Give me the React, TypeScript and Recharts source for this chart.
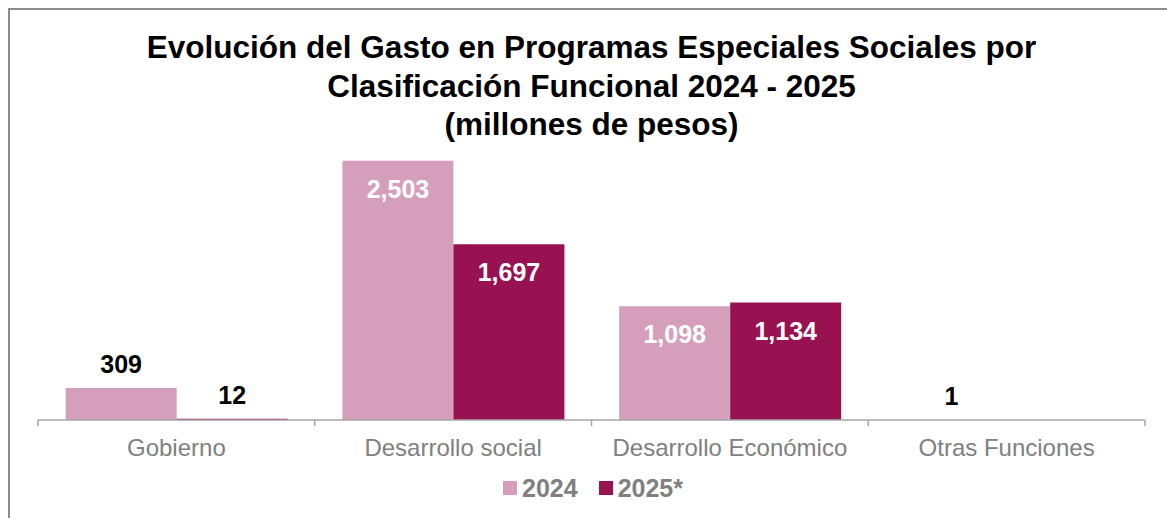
import React from 'react';
import { BarChart, Bar, XAxis, YAxis, LabelList } from 'recharts';

const titleLines = [
  'Evolución del Gasto en Programas Especiales Sociales por',
  'Clasificación Funcional 2024 - 2025',
  '(millones de pesos)',
];
const categories = ['Gobierno', 'Desarrollo social', 'Desarrollo Económico', 'Otras Funciones'];
const gasto2024 = [309, 2503, 1098, 1];
const gasto2025 = [12, 1697, 1134, null];
const seriesNames = ['2024', '2025*'];
const seriesColors = ['#D59FBC', '#981252'];

const data = categories.map((name, i) => ({
  name,
  y2024: gasto2024[i],
  y2025: gasto2025[i],
}));

const FONT = '"Liberation Sans", Arial, sans-serif';

const renderValue = (props: any) => {
  const { x, y, width, value } = props;
  if (value === null || value === undefined) return null;
  // big bars get the number inside, small ones on top
  const inside = value > 500;
  return (
    <text
      x={Number(x) + Number(width) / 2}
      y={inside ? Number(y) + 37 : Number(y) - 15}
      textAnchor="middle"
      fill={inside ? '#FFFFFF' : '#000000'}
      fontSize={25}
      fontWeight="bold"
      fontFamily={FONT}
    >
      {Number(value).toLocaleString('en-US')}
    </text>
  );
};

const CategoryTick = (props: any) => {
  const { x, y, payload, index } = props;
  const half = payload && payload.offset ? payload.offset : 138;
  const last = index === categories.length - 1;
  return (
    <g>
      <line x1={x - half} x2={x - half} y1={y} y2={y + 6} stroke="#a6a6a6" strokeWidth={1.5} />
      {last && <line x1={x + half} x2={x + half} y1={y} y2={y + 6} stroke="#a6a6a6" strokeWidth={1.5} />}
      <text x={x} y={y + 36} textAnchor="middle" fill="#808080" fontSize={24} fontFamily={FONT}>
        {payload.value}
      </text>
    </g>
  );
};

const App: React.FC = () => {
  return (
    <div
      style={{
        position: 'fixed',
        left: 0,
        top: 0,
        width: 1167,
        height: 518,
        overflow: 'hidden',
        background: '#FFFFFF',
        fontFamily: FONT,
      }}
    >
      {/* frame */}
      <div
        style={{
          position: 'absolute',
          left: 8,
          top: 8,
          width: 1300,
          height: 700,
          border: '2px solid #8c8c8c',
        }}
      />

      <div
        style={{
          position: 'absolute',
          left: 0,
          top: 28,
          width: 1183,
          textAlign: 'center',
          fontSize: 31.5,
          fontWeight: 'bold',
          lineHeight: '38.5px',
          color: '#000000',
        }}
      >
        {titleLines.map((t) => (
          <div key={t}>{t}</div>
        ))}
      </div>

      <div style={{ position: 'absolute', left: 0, top: 0 }}>
        <BarChart
          width={1167}
          height={518}
          data={data}
          margin={{ top: 130, right: 22, left: 38, bottom: 38 }}
          barCategoryGap="10%"
          barGap={0}
        >
          <XAxis
            dataKey="name"
            height={60}
            tickSize={0}
            tickMargin={0}
            tickLine={false}
            axisLine={{ stroke: '#a6a6a6', strokeWidth: 1.5 }}
            tick={<CategoryTick />}
            interval={0}
          />
          <YAxis hide domain={[0, 2800]} />
          <Bar dataKey="y2024" name={seriesNames[0]} fill={seriesColors[0]} isAnimationActive={false}>
            <LabelList dataKey="y2024" content={renderValue} />
          </Bar>
          <Bar dataKey="y2025" name={seriesNames[1]} fill={seriesColors[1]} isAnimationActive={false}>
            <LabelList dataKey="y2025" content={renderValue} />
          </Bar>
        </BarChart>
      </div>

      {/* legend */}
      <div
        style={{
          position: 'absolute',
          left: 503,
          top: 473,
          display: 'flex',
          alignItems: 'center',
          height: 30,
          color: '#808080',
          fontSize: 25,
          fontWeight: 'bold',
        }}
      >
        {seriesNames.map((n, i) => (
          <div key={n} style={{ display: 'flex', alignItems: 'center', marginRight: 21 }}>
            <div style={{ width: 14, height: 14, background: seriesColors[i], marginRight: 5 }} />
            <span>{n}</span>
          </div>
        ))}
      </div>
    </div>
  );
};

export default App;
